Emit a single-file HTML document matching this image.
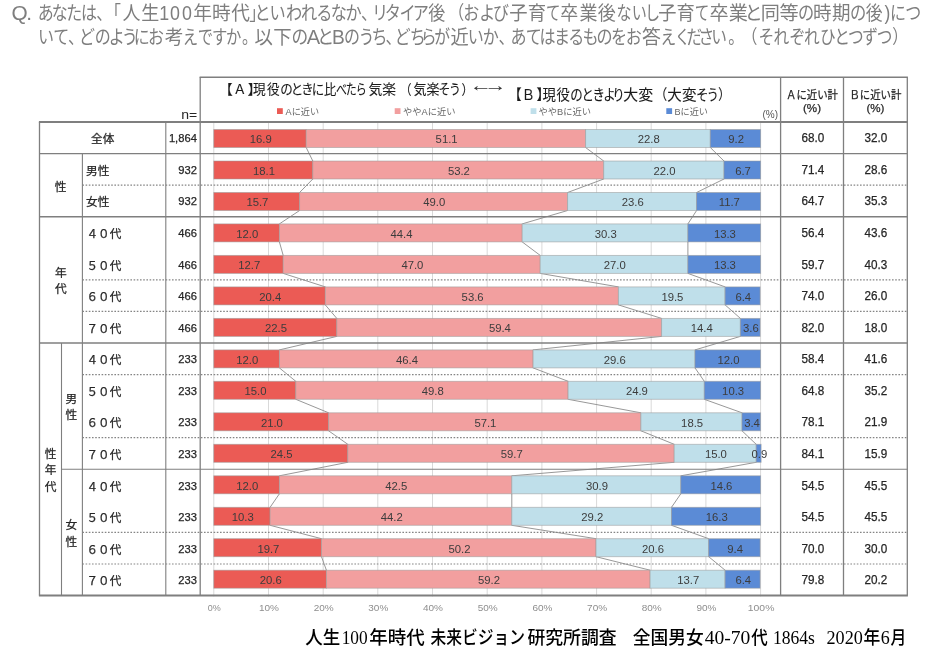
<!DOCTYPE html>
<html lang="ja"><head><meta charset="utf-8"><title>人生100年時代 調査</title>
<style>html,body{margin:0;padding:0;background:#fff}body{width:940px;height:658px;overflow:hidden}svg{display:block}text{font-family:"Liberation Sans", "Noto Sans CJK JP", sans-serif}.ser{font-family:"Liberation Serif", "Noto Sans CJK JP", sans-serif}</style></head><body>
<svg width="940" height="658" viewBox="0 0 940 658">
<rect width="940" height="658" fill="#fff"/>
<text transform="translate(0,20.4) scale(1.015,1)" x="11.3 25.9" y="0" font-size="20.5" fill="#7e7e7e">Q.</text>
<text transform="translate(0,20.4) scale(0.841,1)" x="44.8 61.6 78.9 96.2 114.4 124.8" y="0" font-size="19.0" fill="#7e7e7e">あなたは、「</text>
<text transform="translate(0,20.4) scale(0.950,1)" x="128.9 148.7" y="0" font-size="19.0" fill="#7e7e7e">人生</text>
<text transform="translate(0,20.4) scale(0.871,1)" x="182.9 195.3 209.0" y="0" font-size="20.5" fill="#7e7e7e">100</text>
<text transform="translate(0,20.4) scale(0.987,1)" x="195.9 214.9 234.3" y="0" font-size="19.0" fill="#7e7e7e">年時代</text>
<text transform="translate(0,20.4) scale(0.851,1)" x="292.9 299.1 316.7 336.0 353.7 371.7 388.6 406.0 424.2 437.0 452.2 469.4 484.9" y="0" font-size="19.0" fill="#7e7e7e">」といわれるなか、リタイア</text>
<text transform="translate(0,20.4) scale(0.895,1)" x="478.6" y="0" font-size="19.0" fill="#7e7e7e">後</text>
<text transform="translate(0,20.4) scale(0.842,1)" x="532.5 550.2 569.1 585.5" y="0" font-size="19.0" fill="#7e7e7e">（および</text>
<text transform="translate(0,20.4) scale(0.966,1)" x="527.3 546.3" y="0" font-size="19.0" fill="#7e7e7e">子育</text>
<text transform="translate(0,20.4) scale(0.757,1)" x="721.2" y="0" font-size="19.0" fill="#7e7e7e">て</text>
<text transform="translate(0,20.4) scale(0.948,1)" x="591.1 611.2 630.5" y="0" font-size="19.0" fill="#7e7e7e">卒業後</text>
<text transform="translate(0,20.4) scale(0.796,1)" x="774.5 793.6 810.4" y="0" font-size="19.0" fill="#7e7e7e">ないし</text>
<text transform="translate(0,20.4) scale(0.960,1)" x="685.6 704.6" y="0" font-size="19.0" fill="#7e7e7e">子育</text>
<text transform="translate(0,20.4) scale(0.764,1)" x="909.4" y="0" font-size="19.0" fill="#7e7e7e">て</text>
<text transform="translate(0,20.4) scale(1.007,1)" x="704.6 723.6" y="0" font-size="19.0" fill="#7e7e7e">卒業</text>
<text transform="translate(0,20.4) scale(0.956,1)" x="778.8" y="0" font-size="19.0" fill="#7e7e7e">と</text>
<text transform="translate(0,20.4) scale(1.009,1)" x="753.9 772.6" y="0" font-size="19.0" fill="#7e7e7e">同等</text>
<text transform="translate(0,20.4) scale(0.850,1)" x="938.8" y="0" font-size="19.0" fill="#7e7e7e">の</text>
<text transform="translate(0,20.4) scale(0.976,1)" x="833.1 852.5" y="0" font-size="19.0" fill="#7e7e7e">時期</text>
<text transform="translate(0,20.4) scale(0.857,1)" x="991.9" y="0" font-size="19.0" fill="#7e7e7e">の</text>
<text transform="translate(0,20.4) scale(0.883,1)" x="980.5" y="0" font-size="19.0" fill="#7e7e7e">後</text>
<text transform="translate(0,20.4) scale(0.850,1)" x="1040.5" y="0" font-size="20.5" fill="#7e7e7e">)</text>
<text transform="translate(0,20.4) scale(0.843,1)" x="1055.8 1073.9" y="0" font-size="19.0" fill="#7e7e7e">につ</text>
<text transform="translate(0,44.4) scale(0.842,1)" x="45.2 63.1 80.7 93.8 112.4 129.2 144.5 159.0 175.7" y="0" font-size="19.0" fill="#7e7e7e">いて、どのようにお</text>
<text transform="translate(0,44.4) scale(0.990,1)" x="166.4" y="0" font-size="19.0" fill="#7e7e7e">考</text>
<text transform="translate(0,44.4) scale(0.808,1)" x="226.2 244.8 262.5 279.7 299.6" y="0" font-size="19.0" fill="#7e7e7e">えですか。</text>
<text transform="translate(0,44.4) scale(0.966,1)" x="263.4 282.8" y="0" font-size="19.0" fill="#7e7e7e">以下</text>
<text transform="translate(0,44.4) scale(0.877,1)" x="332.5" y="0" font-size="19.0" fill="#7e7e7e">の</text>
<text transform="translate(0,44.4) scale(0.982,1)" x="312.5" y="0" font-size="20.5" fill="#7e7e7e">A</text>
<text transform="translate(0,44.4) scale(0.905,1)" x="350.2" y="0" font-size="19.0" fill="#7e7e7e">と</text>
<text transform="translate(0,44.4) scale(0.935,1)" x="355.2" y="0" font-size="20.5" fill="#7e7e7e">B</text>
<text transform="translate(0,44.4) scale(0.839,1)" x="410.0 427.3 442.8 459.4 470.4 488.4 501.4 517.7" y="0" font-size="19.0" fill="#7e7e7e">のうち、どちらが</text>
<text transform="translate(0,44.4) scale(0.962,1)" x="468.4" y="0" font-size="19.0" fill="#7e7e7e">近</text>
<text transform="translate(0,44.4) scale(0.845,1)" x="553.5 571.2 590.0 604.2 622.2 638.5 655.6 672.5 689.5 705.8 723.1 740.5" y="0" font-size="19.0" fill="#7e7e7e">いか、あてはまるものをお</text>
<text transform="translate(0,44.4) scale(0.992,1)" x="647.2" y="0" font-size="19.0" fill="#7e7e7e">答</text>
<text transform="translate(0,44.4) scale(0.826,1)" x="799.5 816.9 831.0 845.7 861.1 881.7 898.1 918.3 936.4 955.8 973.4 992.6 1009.9 1026.7 1043.8 1061.4 1080.3" y="0" font-size="19.0" fill="#7e7e7e">えください。（それぞれひとつずつ）</text>
<line x1="213.8" y1="122.0" x2="213.8" y2="596.5" stroke="#d9d9d9" stroke-width="1"/>
<line x1="268.5" y1="122.0" x2="268.5" y2="596.5" stroke="#d9d9d9" stroke-width="1"/>
<line x1="323.2" y1="122.0" x2="323.2" y2="596.5" stroke="#d9d9d9" stroke-width="1"/>
<line x1="377.8" y1="122.0" x2="377.8" y2="596.5" stroke="#d9d9d9" stroke-width="1"/>
<line x1="432.5" y1="122.0" x2="432.5" y2="596.5" stroke="#d9d9d9" stroke-width="1"/>
<line x1="487.2" y1="122.0" x2="487.2" y2="596.5" stroke="#d9d9d9" stroke-width="1"/>
<line x1="541.9" y1="122.0" x2="541.9" y2="596.5" stroke="#d9d9d9" stroke-width="1"/>
<line x1="596.6" y1="122.0" x2="596.6" y2="596.5" stroke="#d9d9d9" stroke-width="1"/>
<line x1="651.2" y1="122.0" x2="651.2" y2="596.5" stroke="#d9d9d9" stroke-width="1"/>
<line x1="705.9" y1="122.0" x2="705.9" y2="596.5" stroke="#d9d9d9" stroke-width="1"/>
<line x1="760.6" y1="122.0" x2="760.6" y2="596.5" stroke="#d9d9d9" stroke-width="1"/>
<line x1="306.2" y1="147.5" x2="312.8" y2="161.0" stroke="#8c8c8c" stroke-width="0.9"/>
<line x1="585.6" y1="147.5" x2="603.7" y2="161.0" stroke="#8c8c8c" stroke-width="0.9"/>
<line x1="710.3" y1="147.5" x2="724.0" y2="161.0" stroke="#8c8c8c" stroke-width="0.9"/>
<line x1="312.8" y1="179.0" x2="299.6" y2="192.5" stroke="#8c8c8c" stroke-width="0.9"/>
<line x1="603.7" y1="179.0" x2="567.6" y2="192.5" stroke="#8c8c8c" stroke-width="0.9"/>
<line x1="724.0" y1="179.0" x2="696.6" y2="192.5" stroke="#8c8c8c" stroke-width="0.9"/>
<line x1="299.6" y1="210.5" x2="279.4" y2="223.9" stroke="#8c8c8c" stroke-width="0.9"/>
<line x1="567.6" y1="210.5" x2="522.2" y2="223.9" stroke="#8c8c8c" stroke-width="0.9"/>
<line x1="696.6" y1="210.5" x2="687.9" y2="223.9" stroke="#8c8c8c" stroke-width="0.9"/>
<line x1="279.4" y1="241.9" x2="283.2" y2="255.4" stroke="#8c8c8c" stroke-width="0.9"/>
<line x1="522.2" y1="241.9" x2="540.2" y2="255.4" stroke="#8c8c8c" stroke-width="0.9"/>
<line x1="687.9" y1="241.9" x2="687.9" y2="255.4" stroke="#8c8c8c" stroke-width="0.9"/>
<line x1="283.2" y1="273.4" x2="325.3" y2="286.9" stroke="#8c8c8c" stroke-width="0.9"/>
<line x1="540.2" y1="273.4" x2="618.4" y2="286.9" stroke="#8c8c8c" stroke-width="0.9"/>
<line x1="687.9" y1="273.4" x2="725.1" y2="286.9" stroke="#8c8c8c" stroke-width="0.9"/>
<line x1="325.3" y1="304.9" x2="336.8" y2="318.4" stroke="#8c8c8c" stroke-width="0.9"/>
<line x1="618.4" y1="304.9" x2="661.6" y2="318.4" stroke="#8c8c8c" stroke-width="0.9"/>
<line x1="725.1" y1="304.9" x2="740.4" y2="318.4" stroke="#8c8c8c" stroke-width="0.9"/>
<line x1="336.8" y1="336.4" x2="279.4" y2="349.9" stroke="#8c8c8c" stroke-width="0.9"/>
<line x1="661.6" y1="336.4" x2="533.1" y2="349.9" stroke="#8c8c8c" stroke-width="0.9"/>
<line x1="740.4" y1="336.4" x2="695.0" y2="349.9" stroke="#8c8c8c" stroke-width="0.9"/>
<line x1="279.4" y1="367.9" x2="295.8" y2="381.3" stroke="#8c8c8c" stroke-width="0.9"/>
<line x1="533.1" y1="367.9" x2="568.1" y2="381.3" stroke="#8c8c8c" stroke-width="0.9"/>
<line x1="695.0" y1="367.9" x2="704.3" y2="381.3" stroke="#8c8c8c" stroke-width="0.9"/>
<line x1="295.8" y1="399.3" x2="328.6" y2="412.8" stroke="#8c8c8c" stroke-width="0.9"/>
<line x1="568.1" y1="399.3" x2="640.9" y2="412.8" stroke="#8c8c8c" stroke-width="0.9"/>
<line x1="704.3" y1="399.3" x2="742.0" y2="412.8" stroke="#8c8c8c" stroke-width="0.9"/>
<line x1="328.6" y1="430.8" x2="347.8" y2="444.3" stroke="#8c8c8c" stroke-width="0.9"/>
<line x1="640.9" y1="430.8" x2="674.2" y2="444.3" stroke="#8c8c8c" stroke-width="0.9"/>
<line x1="742.0" y1="430.8" x2="756.2" y2="444.3" stroke="#8c8c8c" stroke-width="0.9"/>
<line x1="347.8" y1="462.3" x2="279.4" y2="475.8" stroke="#8c8c8c" stroke-width="0.9"/>
<line x1="674.2" y1="462.3" x2="511.8" y2="475.8" stroke="#8c8c8c" stroke-width="0.9"/>
<line x1="756.2" y1="462.3" x2="680.8" y2="475.8" stroke="#8c8c8c" stroke-width="0.9"/>
<line x1="279.4" y1="493.8" x2="270.1" y2="507.3" stroke="#8c8c8c" stroke-width="0.9"/>
<line x1="511.8" y1="493.8" x2="511.8" y2="507.3" stroke="#8c8c8c" stroke-width="0.9"/>
<line x1="680.8" y1="493.8" x2="671.5" y2="507.3" stroke="#8c8c8c" stroke-width="0.9"/>
<line x1="270.1" y1="525.3" x2="321.5" y2="538.7" stroke="#8c8c8c" stroke-width="0.9"/>
<line x1="511.8" y1="525.3" x2="596.0" y2="538.7" stroke="#8c8c8c" stroke-width="0.9"/>
<line x1="671.5" y1="525.3" x2="708.7" y2="538.7" stroke="#8c8c8c" stroke-width="0.9"/>
<line x1="321.5" y1="556.7" x2="326.4" y2="570.2" stroke="#8c8c8c" stroke-width="0.9"/>
<line x1="596.0" y1="556.7" x2="650.1" y2="570.2" stroke="#8c8c8c" stroke-width="0.9"/>
<line x1="708.7" y1="556.7" x2="725.1" y2="570.2" stroke="#8c8c8c" stroke-width="0.9"/>
<rect x="213.8" y="129.5" width="92.4" height="18.0" fill="#EB5B55" stroke="#9a9a9a" stroke-opacity="0.6" stroke-width="0.9"/>
<rect x="306.2" y="129.5" width="279.4" height="18.0" fill="#F29F9F" stroke="#9a9a9a" stroke-opacity="0.6" stroke-width="0.9"/>
<rect x="585.6" y="129.5" width="124.7" height="18.0" fill="#BFDFEA" stroke="#9a9a9a" stroke-opacity="0.6" stroke-width="0.9"/>
<rect x="710.3" y="129.5" width="50.3" height="18.0" fill="#5B8BD6" stroke="#9a9a9a" stroke-opacity="0.6" stroke-width="0.9"/>
<text x="260.7" y="143.3" font-size="11.3" fill="#3c3c3c" text-anchor="middle">16.9</text>
<text x="446.6" y="143.3" font-size="11.3" fill="#3c3c3c" text-anchor="middle">51.1</text>
<text x="648.7" y="143.3" font-size="11.3" fill="#3c3c3c" text-anchor="middle">22.8</text>
<text x="736.1" y="143.3" font-size="11.3" fill="#3c3c3c" text-anchor="middle">9.2</text>
<rect x="213.8" y="161.0" width="99.0" height="18.0" fill="#EB5B55" stroke="#9a9a9a" stroke-opacity="0.6" stroke-width="0.9"/>
<rect x="312.8" y="161.0" width="290.9" height="18.0" fill="#F29F9F" stroke="#9a9a9a" stroke-opacity="0.6" stroke-width="0.9"/>
<rect x="603.7" y="161.0" width="120.3" height="18.0" fill="#BFDFEA" stroke="#9a9a9a" stroke-opacity="0.6" stroke-width="0.9"/>
<rect x="724.0" y="161.0" width="36.6" height="18.0" fill="#5B8BD6" stroke="#9a9a9a" stroke-opacity="0.6" stroke-width="0.9"/>
<text x="264.0" y="174.8" font-size="11.3" fill="#3c3c3c" text-anchor="middle">18.1</text>
<text x="458.9" y="174.8" font-size="11.3" fill="#3c3c3c" text-anchor="middle">53.2</text>
<text x="664.5" y="174.8" font-size="11.3" fill="#3c3c3c" text-anchor="middle">22.0</text>
<text x="743.0" y="174.8" font-size="11.3" fill="#3c3c3c" text-anchor="middle">6.7</text>
<rect x="213.8" y="192.5" width="85.8" height="18.0" fill="#EB5B55" stroke="#9a9a9a" stroke-opacity="0.6" stroke-width="0.9"/>
<rect x="299.6" y="192.5" width="267.9" height="18.0" fill="#F29F9F" stroke="#9a9a9a" stroke-opacity="0.6" stroke-width="0.9"/>
<rect x="567.6" y="192.5" width="129.0" height="18.0" fill="#BFDFEA" stroke="#9a9a9a" stroke-opacity="0.6" stroke-width="0.9"/>
<rect x="696.6" y="192.5" width="64.0" height="18.0" fill="#5B8BD6" stroke="#9a9a9a" stroke-opacity="0.6" stroke-width="0.9"/>
<text x="257.4" y="206.3" font-size="11.3" fill="#3c3c3c" text-anchor="middle">15.7</text>
<text x="434.3" y="206.3" font-size="11.3" fill="#3c3c3c" text-anchor="middle">49.0</text>
<text x="632.8" y="206.3" font-size="11.3" fill="#3c3c3c" text-anchor="middle">23.6</text>
<text x="729.3" y="206.3" font-size="11.3" fill="#3c3c3c" text-anchor="middle">11.7</text>
<rect x="213.8" y="223.9" width="65.6" height="18.0" fill="#EB5B55" stroke="#9a9a9a" stroke-opacity="0.6" stroke-width="0.9"/>
<rect x="279.4" y="223.9" width="242.8" height="18.0" fill="#F29F9F" stroke="#9a9a9a" stroke-opacity="0.6" stroke-width="0.9"/>
<rect x="522.2" y="223.9" width="165.7" height="18.0" fill="#BFDFEA" stroke="#9a9a9a" stroke-opacity="0.6" stroke-width="0.9"/>
<rect x="687.9" y="223.9" width="72.7" height="18.0" fill="#5B8BD6" stroke="#9a9a9a" stroke-opacity="0.6" stroke-width="0.9"/>
<text x="247.3" y="237.7" font-size="11.3" fill="#3c3c3c" text-anchor="middle">12.0</text>
<text x="401.5" y="237.7" font-size="11.3" fill="#3c3c3c" text-anchor="middle">44.4</text>
<text x="605.7" y="237.7" font-size="11.3" fill="#3c3c3c" text-anchor="middle">30.3</text>
<text x="724.9" y="237.7" font-size="11.3" fill="#3c3c3c" text-anchor="middle">13.3</text>
<rect x="213.8" y="255.4" width="69.4" height="18.0" fill="#EB5B55" stroke="#9a9a9a" stroke-opacity="0.6" stroke-width="0.9"/>
<rect x="283.2" y="255.4" width="257.0" height="18.0" fill="#F29F9F" stroke="#9a9a9a" stroke-opacity="0.6" stroke-width="0.9"/>
<rect x="540.2" y="255.4" width="147.6" height="18.0" fill="#BFDFEA" stroke="#9a9a9a" stroke-opacity="0.6" stroke-width="0.9"/>
<rect x="687.9" y="255.4" width="72.7" height="18.0" fill="#5B8BD6" stroke="#9a9a9a" stroke-opacity="0.6" stroke-width="0.9"/>
<text x="249.2" y="269.2" font-size="11.3" fill="#3c3c3c" text-anchor="middle">12.7</text>
<text x="412.4" y="269.2" font-size="11.3" fill="#3c3c3c" text-anchor="middle">47.0</text>
<text x="614.8" y="269.2" font-size="11.3" fill="#3c3c3c" text-anchor="middle">27.0</text>
<text x="724.9" y="269.2" font-size="11.3" fill="#3c3c3c" text-anchor="middle">13.3</text>
<rect x="213.8" y="286.9" width="111.5" height="18.0" fill="#EB5B55" stroke="#9a9a9a" stroke-opacity="0.6" stroke-width="0.9"/>
<rect x="325.3" y="286.9" width="293.1" height="18.0" fill="#F29F9F" stroke="#9a9a9a" stroke-opacity="0.6" stroke-width="0.9"/>
<rect x="618.4" y="286.9" width="106.6" height="18.0" fill="#BFDFEA" stroke="#9a9a9a" stroke-opacity="0.6" stroke-width="0.9"/>
<rect x="725.1" y="286.9" width="35.0" height="18.0" fill="#5B8BD6" stroke="#9a9a9a" stroke-opacity="0.6" stroke-width="0.9"/>
<text x="270.3" y="300.7" font-size="11.3" fill="#3c3c3c" text-anchor="middle">20.4</text>
<text x="472.6" y="300.7" font-size="11.3" fill="#3c3c3c" text-anchor="middle">53.6</text>
<text x="672.4" y="300.7" font-size="11.3" fill="#3c3c3c" text-anchor="middle">19.5</text>
<text x="743.3" y="300.7" font-size="11.3" fill="#3c3c3c" text-anchor="middle">6.4</text>
<rect x="213.8" y="318.4" width="123.0" height="18.0" fill="#EB5B55" stroke="#9a9a9a" stroke-opacity="0.6" stroke-width="0.9"/>
<rect x="336.8" y="318.4" width="324.8" height="18.0" fill="#F29F9F" stroke="#9a9a9a" stroke-opacity="0.6" stroke-width="0.9"/>
<rect x="661.6" y="318.4" width="78.7" height="18.0" fill="#BFDFEA" stroke="#9a9a9a" stroke-opacity="0.6" stroke-width="0.9"/>
<rect x="740.4" y="318.4" width="19.7" height="18.0" fill="#5B8BD6" stroke="#9a9a9a" stroke-opacity="0.6" stroke-width="0.9"/>
<text x="276.0" y="332.2" font-size="11.3" fill="#3c3c3c" text-anchor="middle">22.5</text>
<text x="499.9" y="332.2" font-size="11.3" fill="#3c3c3c" text-anchor="middle">59.4</text>
<text x="701.7" y="332.2" font-size="11.3" fill="#3c3c3c" text-anchor="middle">14.4</text>
<text x="750.9" y="332.2" font-size="11.3" fill="#3c3c3c" text-anchor="middle">3.6</text>
<rect x="213.8" y="349.9" width="65.6" height="18.0" fill="#EB5B55" stroke="#9a9a9a" stroke-opacity="0.6" stroke-width="0.9"/>
<rect x="279.4" y="349.9" width="253.7" height="18.0" fill="#F29F9F" stroke="#9a9a9a" stroke-opacity="0.6" stroke-width="0.9"/>
<rect x="533.1" y="349.9" width="161.9" height="18.0" fill="#BFDFEA" stroke="#9a9a9a" stroke-opacity="0.6" stroke-width="0.9"/>
<rect x="695.0" y="349.9" width="65.6" height="18.0" fill="#5B8BD6" stroke="#9a9a9a" stroke-opacity="0.6" stroke-width="0.9"/>
<text x="247.3" y="363.7" font-size="11.3" fill="#3c3c3c" text-anchor="middle">12.0</text>
<text x="407.0" y="363.7" font-size="11.3" fill="#3c3c3c" text-anchor="middle">46.4</text>
<text x="614.8" y="363.7" font-size="11.3" fill="#3c3c3c" text-anchor="middle">29.6</text>
<text x="728.5" y="363.7" font-size="11.3" fill="#3c3c3c" text-anchor="middle">12.0</text>
<rect x="213.8" y="381.3" width="82.0" height="18.0" fill="#EB5B55" stroke="#9a9a9a" stroke-opacity="0.6" stroke-width="0.9"/>
<rect x="295.8" y="381.3" width="272.3" height="18.0" fill="#F29F9F" stroke="#9a9a9a" stroke-opacity="0.6" stroke-width="0.9"/>
<rect x="568.1" y="381.3" width="136.2" height="18.0" fill="#BFDFEA" stroke="#9a9a9a" stroke-opacity="0.6" stroke-width="0.9"/>
<rect x="704.3" y="381.3" width="56.3" height="18.0" fill="#5B8BD6" stroke="#9a9a9a" stroke-opacity="0.6" stroke-width="0.9"/>
<text x="255.5" y="395.1" font-size="11.3" fill="#3c3c3c" text-anchor="middle">15.0</text>
<text x="432.7" y="395.1" font-size="11.3" fill="#3c3c3c" text-anchor="middle">49.8</text>
<text x="636.9" y="395.1" font-size="11.3" fill="#3c3c3c" text-anchor="middle">24.9</text>
<text x="733.1" y="395.1" font-size="11.3" fill="#3c3c3c" text-anchor="middle">10.3</text>
<rect x="213.8" y="412.8" width="114.8" height="18.0" fill="#EB5B55" stroke="#9a9a9a" stroke-opacity="0.6" stroke-width="0.9"/>
<rect x="328.6" y="412.8" width="312.2" height="18.0" fill="#F29F9F" stroke="#9a9a9a" stroke-opacity="0.6" stroke-width="0.9"/>
<rect x="640.9" y="412.8" width="101.2" height="18.0" fill="#BFDFEA" stroke="#9a9a9a" stroke-opacity="0.6" stroke-width="0.9"/>
<rect x="742.0" y="412.8" width="18.6" height="18.0" fill="#5B8BD6" stroke="#9a9a9a" stroke-opacity="0.6" stroke-width="0.9"/>
<text x="271.9" y="426.6" font-size="11.3" fill="#3c3c3c" text-anchor="middle">21.0</text>
<text x="485.4" y="426.6" font-size="11.3" fill="#3c3c3c" text-anchor="middle">57.1</text>
<text x="692.1" y="426.6" font-size="11.3" fill="#3c3c3c" text-anchor="middle">18.5</text>
<text x="752.0" y="426.6" font-size="11.3" fill="#3c3c3c" text-anchor="middle">3.4</text>
<rect x="213.8" y="444.3" width="134.0" height="18.0" fill="#EB5B55" stroke="#9a9a9a" stroke-opacity="0.6" stroke-width="0.9"/>
<rect x="347.8" y="444.3" width="326.4" height="18.0" fill="#F29F9F" stroke="#9a9a9a" stroke-opacity="0.6" stroke-width="0.9"/>
<rect x="674.2" y="444.3" width="82.0" height="18.0" fill="#BFDFEA" stroke="#9a9a9a" stroke-opacity="0.6" stroke-width="0.9"/>
<rect x="756.2" y="444.3" width="4.9" height="18.0" fill="#5B8BD6" stroke="#9a9a9a" stroke-opacity="0.6" stroke-width="0.9"/>
<text x="281.5" y="458.1" font-size="11.3" fill="#3c3c3c" text-anchor="middle">24.5</text>
<text x="511.7" y="458.1" font-size="11.3" fill="#3c3c3c" text-anchor="middle">59.7</text>
<text x="715.9" y="458.1" font-size="11.3" fill="#3c3c3c" text-anchor="middle">15.0</text>
<text x="759.4" y="458.1" font-size="11.3" fill="#3c3c3c" text-anchor="middle">0.9</text>
<rect x="213.8" y="475.8" width="65.6" height="18.0" fill="#EB5B55" stroke="#9a9a9a" stroke-opacity="0.6" stroke-width="0.9"/>
<rect x="279.4" y="475.8" width="232.4" height="18.0" fill="#F29F9F" stroke="#9a9a9a" stroke-opacity="0.6" stroke-width="0.9"/>
<rect x="511.8" y="475.8" width="169.0" height="18.0" fill="#BFDFEA" stroke="#9a9a9a" stroke-opacity="0.6" stroke-width="0.9"/>
<rect x="680.8" y="475.8" width="79.8" height="18.0" fill="#5B8BD6" stroke="#9a9a9a" stroke-opacity="0.6" stroke-width="0.9"/>
<text x="247.3" y="489.6" font-size="11.3" fill="#3c3c3c" text-anchor="middle">12.0</text>
<text x="396.3" y="489.6" font-size="11.3" fill="#3c3c3c" text-anchor="middle">42.5</text>
<text x="597.0" y="489.6" font-size="11.3" fill="#3c3c3c" text-anchor="middle">30.9</text>
<text x="721.4" y="489.6" font-size="11.3" fill="#3c3c3c" text-anchor="middle">14.6</text>
<rect x="213.8" y="507.3" width="56.3" height="18.0" fill="#EB5B55" stroke="#9a9a9a" stroke-opacity="0.6" stroke-width="0.9"/>
<rect x="270.1" y="507.3" width="241.7" height="18.0" fill="#F29F9F" stroke="#9a9a9a" stroke-opacity="0.6" stroke-width="0.9"/>
<rect x="511.8" y="507.3" width="159.7" height="18.0" fill="#BFDFEA" stroke="#9a9a9a" stroke-opacity="0.6" stroke-width="0.9"/>
<rect x="671.5" y="507.3" width="89.1" height="18.0" fill="#5B8BD6" stroke="#9a9a9a" stroke-opacity="0.6" stroke-width="0.9"/>
<text x="242.7" y="521.1" font-size="11.3" fill="#3c3c3c" text-anchor="middle">10.3</text>
<text x="391.7" y="521.1" font-size="11.3" fill="#3c3c3c" text-anchor="middle">44.2</text>
<text x="592.3" y="521.1" font-size="11.3" fill="#3c3c3c" text-anchor="middle">29.2</text>
<text x="716.7" y="521.1" font-size="11.3" fill="#3c3c3c" text-anchor="middle">16.3</text>
<rect x="213.8" y="538.7" width="107.7" height="18.0" fill="#EB5B55" stroke="#9a9a9a" stroke-opacity="0.6" stroke-width="0.9"/>
<rect x="321.5" y="538.7" width="274.5" height="18.0" fill="#F29F9F" stroke="#9a9a9a" stroke-opacity="0.6" stroke-width="0.9"/>
<rect x="596.0" y="538.7" width="112.6" height="18.0" fill="#BFDFEA" stroke="#9a9a9a" stroke-opacity="0.6" stroke-width="0.9"/>
<rect x="708.7" y="538.7" width="51.4" height="18.0" fill="#5B8BD6" stroke="#9a9a9a" stroke-opacity="0.6" stroke-width="0.9"/>
<text x="268.4" y="552.5" font-size="11.3" fill="#3c3c3c" text-anchor="middle">19.7</text>
<text x="459.5" y="552.5" font-size="11.3" fill="#3c3c3c" text-anchor="middle">50.2</text>
<text x="653.0" y="552.5" font-size="11.3" fill="#3c3c3c" text-anchor="middle">20.6</text>
<text x="735.1" y="552.5" font-size="11.3" fill="#3c3c3c" text-anchor="middle">9.4</text>
<rect x="213.8" y="570.2" width="112.6" height="18.0" fill="#EB5B55" stroke="#9a9a9a" stroke-opacity="0.6" stroke-width="0.9"/>
<rect x="326.4" y="570.2" width="323.7" height="18.0" fill="#F29F9F" stroke="#9a9a9a" stroke-opacity="0.6" stroke-width="0.9"/>
<rect x="650.1" y="570.2" width="74.9" height="18.0" fill="#BFDFEA" stroke="#9a9a9a" stroke-opacity="0.6" stroke-width="0.9"/>
<rect x="725.1" y="570.2" width="35.0" height="18.0" fill="#5B8BD6" stroke="#9a9a9a" stroke-opacity="0.6" stroke-width="0.9"/>
<text x="270.8" y="584.0" font-size="11.3" fill="#3c3c3c" text-anchor="middle">20.6</text>
<text x="489.0" y="584.0" font-size="11.3" fill="#3c3c3c" text-anchor="middle">59.2</text>
<text x="688.3" y="584.0" font-size="11.3" fill="#3c3c3c" text-anchor="middle">13.7</text>
<text x="743.3" y="584.0" font-size="11.3" fill="#3c3c3c" text-anchor="middle">6.4</text>
<line x1="199.6" y1="77.2" x2="907.9" y2="77.2" stroke="#7f7f7f" stroke-width="1.6"/>
<line x1="200.2" y1="77.2" x2="200.2" y2="595.5" stroke="#7f7f7f" stroke-width="1.3"/>
<line x1="780.6" y1="77.2" x2="780.6" y2="595.5" stroke="#7f7f7f" stroke-width="1.3"/>
<line x1="843.5" y1="77.2" x2="843.5" y2="595.5" stroke="#7f7f7f" stroke-width="1.3"/>
<line x1="907.3" y1="77.2" x2="907.3" y2="595.5" stroke="#7f7f7f" stroke-width="1.3"/>
<line x1="38.9" y1="122.0" x2="907.9" y2="122.0" stroke="#7f7f7f" stroke-width="1.9"/>
<line x1="38.9" y1="595.5" x2="907.9" y2="595.5" stroke="#7f7f7f" stroke-width="1.9"/>
<line x1="39.5" y1="122.0" x2="39.5" y2="595.5" stroke="#7f7f7f" stroke-width="1.3"/>
<line x1="165.8" y1="122.0" x2="165.8" y2="595.5" stroke="#7f7f7f" stroke-width="1.1"/>
<line x1="82.4" y1="153.6" x2="82.4" y2="595.5" stroke="#7f7f7f" stroke-width="1.1"/>
<line x1="61.5" y1="343.0" x2="61.5" y2="595.5" stroke="#7f7f7f" stroke-width="1.1"/>
<line x1="39.5" y1="153.6" x2="907.3" y2="153.6" stroke="#7f7f7f" stroke-width="1.2"/>
<line x1="39.5" y1="216.7" x2="907.3" y2="216.7" stroke="#7f7f7f" stroke-width="1.5"/>
<line x1="39.5" y1="343.0" x2="907.3" y2="343.0" stroke="#7f7f7f" stroke-width="1.5"/>
<line x1="61.5" y1="469.3" x2="907.3" y2="469.3" stroke="#7f7f7f" stroke-width="1.1"/>
<line x1="82.4" y1="185.1" x2="907.3" y2="185.1" stroke="#858585" stroke-width="1.2" stroke-dasharray="1.6 1.6"/>
<line x1="82.4" y1="279.9" x2="907.3" y2="279.9" stroke="#858585" stroke-width="1.2" stroke-dasharray="1.6 1.6"/>
<line x1="82.4" y1="311.4" x2="907.3" y2="311.4" stroke="#858585" stroke-width="1.2" stroke-dasharray="1.6 1.6"/>
<line x1="82.4" y1="374.6" x2="907.3" y2="374.6" stroke="#858585" stroke-width="1.2" stroke-dasharray="1.6 1.6"/>
<line x1="82.4" y1="437.7" x2="907.3" y2="437.7" stroke="#858585" stroke-width="1.2" stroke-dasharray="1.6 1.6"/>
<line x1="82.4" y1="532.4" x2="907.3" y2="532.4" stroke="#858585" stroke-width="1.2" stroke-dasharray="1.6 1.6"/>
<line x1="82.4" y1="564.0" x2="907.3" y2="564.0" stroke="#858585" stroke-width="1.2" stroke-dasharray="1.6 1.6"/>
<text x="102.7" y="143.3" font-size="11.7" fill="#262626" text-anchor="middle" stroke="#262626" stroke-width="0.25">全体</text>
<text x="196.9" y="142.2" font-size="11.2" fill="#262626" text-anchor="end" stroke="#262626" stroke-width="0.25">1,864</text>
<text x="812.8" y="142.2" font-size="12" fill="#262626" text-anchor="middle" textLength="22.8" lengthAdjust="spacingAndGlyphs" stroke="#262626" stroke-width="0.25">68.0</text>
<text x="875.9" y="142.2" font-size="12" fill="#262626" text-anchor="middle" textLength="22.8" lengthAdjust="spacingAndGlyphs" stroke="#262626" stroke-width="0.25">32.0</text>
<text x="86.0" y="174.9" font-size="11.7" fill="#262626" text-anchor="start" stroke="#262626" stroke-width="0.25">男性</text>
<text x="196.9" y="173.8" font-size="11.2" fill="#262626" text-anchor="end" stroke="#262626" stroke-width="0.25">932</text>
<text x="812.8" y="173.8" font-size="12" fill="#262626" text-anchor="middle" textLength="22.8" lengthAdjust="spacingAndGlyphs" stroke="#262626" stroke-width="0.25">71.4</text>
<text x="875.9" y="173.8" font-size="12" fill="#262626" text-anchor="middle" textLength="22.8" lengthAdjust="spacingAndGlyphs" stroke="#262626" stroke-width="0.25">28.6</text>
<text x="86.0" y="206.4" font-size="11.7" fill="#262626" text-anchor="start" stroke="#262626" stroke-width="0.25">女性</text>
<text x="196.9" y="205.3" font-size="11.2" fill="#262626" text-anchor="end" stroke="#262626" stroke-width="0.25">932</text>
<text x="812.8" y="205.3" font-size="12" fill="#262626" text-anchor="middle" textLength="22.8" lengthAdjust="spacingAndGlyphs" stroke="#262626" stroke-width="0.25">64.7</text>
<text x="875.9" y="205.3" font-size="12" fill="#262626" text-anchor="middle" textLength="22.8" lengthAdjust="spacingAndGlyphs" stroke="#262626" stroke-width="0.25">35.3</text>
<text x="86.6" y="238.0" font-size="11.7" fill="#262626" text-anchor="start" textLength="34.6" lengthAdjust="spacingAndGlyphs" stroke="#262626" stroke-width="0.25">４０代</text>
<text x="196.9" y="236.9" font-size="11.2" fill="#262626" text-anchor="end" stroke="#262626" stroke-width="0.25">466</text>
<text x="812.8" y="236.9" font-size="12" fill="#262626" text-anchor="middle" textLength="22.8" lengthAdjust="spacingAndGlyphs" stroke="#262626" stroke-width="0.25">56.4</text>
<text x="875.9" y="236.9" font-size="12" fill="#262626" text-anchor="middle" textLength="22.8" lengthAdjust="spacingAndGlyphs" stroke="#262626" stroke-width="0.25">43.6</text>
<text x="86.6" y="269.6" font-size="11.7" fill="#262626" text-anchor="start" textLength="34.6" lengthAdjust="spacingAndGlyphs" stroke="#262626" stroke-width="0.25">５０代</text>
<text x="196.9" y="268.5" font-size="11.2" fill="#262626" text-anchor="end" stroke="#262626" stroke-width="0.25">466</text>
<text x="812.8" y="268.5" font-size="12" fill="#262626" text-anchor="middle" textLength="22.8" lengthAdjust="spacingAndGlyphs" stroke="#262626" stroke-width="0.25">59.7</text>
<text x="875.9" y="268.5" font-size="12" fill="#262626" text-anchor="middle" textLength="22.8" lengthAdjust="spacingAndGlyphs" stroke="#262626" stroke-width="0.25">40.3</text>
<text x="86.6" y="301.1" font-size="11.7" fill="#262626" text-anchor="start" textLength="34.6" lengthAdjust="spacingAndGlyphs" stroke="#262626" stroke-width="0.25">６０代</text>
<text x="196.9" y="300.0" font-size="11.2" fill="#262626" text-anchor="end" stroke="#262626" stroke-width="0.25">466</text>
<text x="812.8" y="300.0" font-size="12" fill="#262626" text-anchor="middle" textLength="22.8" lengthAdjust="spacingAndGlyphs" stroke="#262626" stroke-width="0.25">74.0</text>
<text x="875.9" y="300.0" font-size="12" fill="#262626" text-anchor="middle" textLength="22.8" lengthAdjust="spacingAndGlyphs" stroke="#262626" stroke-width="0.25">26.0</text>
<text x="86.6" y="332.7" font-size="11.7" fill="#262626" text-anchor="start" textLength="34.6" lengthAdjust="spacingAndGlyphs" stroke="#262626" stroke-width="0.25">７０代</text>
<text x="196.9" y="331.6" font-size="11.2" fill="#262626" text-anchor="end" stroke="#262626" stroke-width="0.25">466</text>
<text x="812.8" y="331.6" font-size="12" fill="#262626" text-anchor="middle" textLength="22.8" lengthAdjust="spacingAndGlyphs" stroke="#262626" stroke-width="0.25">82.0</text>
<text x="875.9" y="331.6" font-size="12" fill="#262626" text-anchor="middle" textLength="22.8" lengthAdjust="spacingAndGlyphs" stroke="#262626" stroke-width="0.25">18.0</text>
<text x="86.6" y="364.3" font-size="11.7" fill="#262626" text-anchor="start" textLength="34.6" lengthAdjust="spacingAndGlyphs" stroke="#262626" stroke-width="0.25">４０代</text>
<text x="196.9" y="363.2" font-size="11.2" fill="#262626" text-anchor="end" stroke="#262626" stroke-width="0.25">233</text>
<text x="812.8" y="363.2" font-size="12" fill="#262626" text-anchor="middle" textLength="22.8" lengthAdjust="spacingAndGlyphs" stroke="#262626" stroke-width="0.25">58.4</text>
<text x="875.9" y="363.2" font-size="12" fill="#262626" text-anchor="middle" textLength="22.8" lengthAdjust="spacingAndGlyphs" stroke="#262626" stroke-width="0.25">41.6</text>
<text x="86.6" y="395.8" font-size="11.7" fill="#262626" text-anchor="start" textLength="34.6" lengthAdjust="spacingAndGlyphs" stroke="#262626" stroke-width="0.25">５０代</text>
<text x="196.9" y="394.7" font-size="11.2" fill="#262626" text-anchor="end" stroke="#262626" stroke-width="0.25">233</text>
<text x="812.8" y="394.7" font-size="12" fill="#262626" text-anchor="middle" textLength="22.8" lengthAdjust="spacingAndGlyphs" stroke="#262626" stroke-width="0.25">64.8</text>
<text x="875.9" y="394.7" font-size="12" fill="#262626" text-anchor="middle" textLength="22.8" lengthAdjust="spacingAndGlyphs" stroke="#262626" stroke-width="0.25">35.2</text>
<text x="86.6" y="427.4" font-size="11.7" fill="#262626" text-anchor="start" textLength="34.6" lengthAdjust="spacingAndGlyphs" stroke="#262626" stroke-width="0.25">６０代</text>
<text x="196.9" y="426.3" font-size="11.2" fill="#262626" text-anchor="end" stroke="#262626" stroke-width="0.25">233</text>
<text x="812.8" y="426.3" font-size="12" fill="#262626" text-anchor="middle" textLength="22.8" lengthAdjust="spacingAndGlyphs" stroke="#262626" stroke-width="0.25">78.1</text>
<text x="875.9" y="426.3" font-size="12" fill="#262626" text-anchor="middle" textLength="22.8" lengthAdjust="spacingAndGlyphs" stroke="#262626" stroke-width="0.25">21.9</text>
<text x="86.6" y="459.0" font-size="11.7" fill="#262626" text-anchor="start" textLength="34.6" lengthAdjust="spacingAndGlyphs" stroke="#262626" stroke-width="0.25">７０代</text>
<text x="196.9" y="457.9" font-size="11.2" fill="#262626" text-anchor="end" stroke="#262626" stroke-width="0.25">233</text>
<text x="812.8" y="457.9" font-size="12" fill="#262626" text-anchor="middle" textLength="22.8" lengthAdjust="spacingAndGlyphs" stroke="#262626" stroke-width="0.25">84.1</text>
<text x="875.9" y="457.9" font-size="12" fill="#262626" text-anchor="middle" textLength="22.8" lengthAdjust="spacingAndGlyphs" stroke="#262626" stroke-width="0.25">15.9</text>
<text x="86.6" y="490.6" font-size="11.7" fill="#262626" text-anchor="start" textLength="34.6" lengthAdjust="spacingAndGlyphs" stroke="#262626" stroke-width="0.25">４０代</text>
<text x="196.9" y="489.5" font-size="11.2" fill="#262626" text-anchor="end" stroke="#262626" stroke-width="0.25">233</text>
<text x="812.8" y="489.5" font-size="12" fill="#262626" text-anchor="middle" textLength="22.8" lengthAdjust="spacingAndGlyphs" stroke="#262626" stroke-width="0.25">54.5</text>
<text x="875.9" y="489.5" font-size="12" fill="#262626" text-anchor="middle" textLength="22.8" lengthAdjust="spacingAndGlyphs" stroke="#262626" stroke-width="0.25">45.5</text>
<text x="86.6" y="522.1" font-size="11.7" fill="#262626" text-anchor="start" textLength="34.6" lengthAdjust="spacingAndGlyphs" stroke="#262626" stroke-width="0.25">５０代</text>
<text x="196.9" y="521.0" font-size="11.2" fill="#262626" text-anchor="end" stroke="#262626" stroke-width="0.25">233</text>
<text x="812.8" y="521.0" font-size="12" fill="#262626" text-anchor="middle" textLength="22.8" lengthAdjust="spacingAndGlyphs" stroke="#262626" stroke-width="0.25">54.5</text>
<text x="875.9" y="521.0" font-size="12" fill="#262626" text-anchor="middle" textLength="22.8" lengthAdjust="spacingAndGlyphs" stroke="#262626" stroke-width="0.25">45.5</text>
<text x="86.6" y="553.7" font-size="11.7" fill="#262626" text-anchor="start" textLength="34.6" lengthAdjust="spacingAndGlyphs" stroke="#262626" stroke-width="0.25">６０代</text>
<text x="196.9" y="552.6" font-size="11.2" fill="#262626" text-anchor="end" stroke="#262626" stroke-width="0.25">233</text>
<text x="812.8" y="552.6" font-size="12" fill="#262626" text-anchor="middle" textLength="22.8" lengthAdjust="spacingAndGlyphs" stroke="#262626" stroke-width="0.25">70.0</text>
<text x="875.9" y="552.6" font-size="12" fill="#262626" text-anchor="middle" textLength="22.8" lengthAdjust="spacingAndGlyphs" stroke="#262626" stroke-width="0.25">30.0</text>
<text x="86.6" y="585.3" font-size="11.7" fill="#262626" text-anchor="start" textLength="34.6" lengthAdjust="spacingAndGlyphs" stroke="#262626" stroke-width="0.25">７０代</text>
<text x="196.9" y="584.2" font-size="11.2" fill="#262626" text-anchor="end" stroke="#262626" stroke-width="0.25">233</text>
<text x="812.8" y="584.2" font-size="12" fill="#262626" text-anchor="middle" textLength="22.8" lengthAdjust="spacingAndGlyphs" stroke="#262626" stroke-width="0.25">79.8</text>
<text x="875.9" y="584.2" font-size="12" fill="#262626" text-anchor="middle" textLength="22.8" lengthAdjust="spacingAndGlyphs" stroke="#262626" stroke-width="0.25">20.2</text>
<text x="60.6" y="190.9" font-size="11.7" fill="#262626" text-anchor="middle" stroke="#262626" stroke-width="0.25">性</text>
<text x="60.8" y="276.9" font-size="11.7" fill="#262626" text-anchor="middle" stroke="#262626" stroke-width="0.25">年</text>
<text x="60.8" y="292.9" font-size="11.7" fill="#262626" text-anchor="middle" stroke="#262626" stroke-width="0.25">代</text>
<text x="50.5" y="458.0" font-size="11.7" fill="#262626" text-anchor="middle" stroke="#262626" stroke-width="0.25">性</text>
<text x="50.5" y="474.2" font-size="11.7" fill="#262626" text-anchor="middle" stroke="#262626" stroke-width="0.25">年</text>
<text x="50.5" y="490.5" font-size="11.7" fill="#262626" text-anchor="middle" stroke="#262626" stroke-width="0.25">代</text>
<text x="71.4" y="403.1" font-size="11.7" fill="#262626" text-anchor="middle" stroke="#262626" stroke-width="0.25">男</text>
<text x="71.4" y="419.3" font-size="11.7" fill="#262626" text-anchor="middle" stroke="#262626" stroke-width="0.25">性</text>
<text x="71.4" y="529.4" font-size="11.7" fill="#262626" text-anchor="middle" stroke="#262626" stroke-width="0.25">女</text>
<text x="71.4" y="545.6" font-size="11.7" fill="#262626" text-anchor="middle" stroke="#262626" stroke-width="0.25">性</text>
<text x="197.2" y="119.0" font-size="12.6" fill="#262626" text-anchor="end" textLength="16.0" lengthAdjust="spacingAndGlyphs">n=</text>
<text transform="translate(0,93.6) scale(0.973,1)" x="225.5 239.7 254.6" y="0" font-size="13.6" fill="#1a1a1a" stroke="#1a1a1a" stroke-width="0.1">【Ａ】</text>
<text transform="translate(0,93.6) scale(0.929,1)" x="272.3 287.3" y="0" font-size="13.6" fill="#1a1a1a" stroke="#1a1a1a" stroke-width="0.1">現役</text>
<text transform="translate(0,93.6) scale(0.923,1)" x="303.6 315.0 326.4 337.8" y="0" font-size="13.6" fill="#1a1a1a" stroke="#1a1a1a" stroke-width="0.1">のときに</text>
<text transform="translate(0,93.6) scale(0.902,1)" x="359.3" y="0" font-size="13.6" fill="#1a1a1a" stroke="#1a1a1a" stroke-width="0.1">比</text>
<text transform="translate(0,93.6) scale(0.803,1)" x="418.4 430.5 443.1" y="0" font-size="13.6" fill="#1a1a1a" stroke="#1a1a1a" stroke-width="0.1">べたら</text>
<text transform="translate(0,93.6) scale(1.011,1)" x="364.4 378.0" y="0" font-size="13.6" fill="#1a1a1a" stroke="#1a1a1a" stroke-width="0.1">気楽</text>
<text transform="translate(0,93.6) scale(0.850,1)" x="470.5" y="0" font-size="13.6" fill="#1a1a1a" stroke="#1a1a1a" stroke-width="0.1">（</text>
<text transform="translate(0,93.6) scale(0.952,1)" x="434.3 448.1" y="0" font-size="13.6" fill="#1a1a1a" stroke="#1a1a1a" stroke-width="0.1">気楽</text>
<text transform="translate(0,93.6) scale(0.877,1)" x="500.0 512.0 526.1" y="0" font-size="13.6" fill="#1a1a1a" stroke="#1a1a1a" stroke-width="0.1">そう）</text>
<text transform="translate(0,90.6) scale(1.287,1)" x="364.8 376.0" y="0" font-size="17.5" fill="#333">←→</text>
<text transform="translate(0,99.6) scale(0.901,1)" x="564.3 579.1 595.5" y="0" font-size="14.6" fill="#1a1a1a" stroke="#1a1a1a" stroke-width="0.1">【Ｂ】</text>
<text transform="translate(0,99.6) scale(0.917,1)" x="591.5 606.9" y="0" font-size="14.6" fill="#1a1a1a" stroke="#1a1a1a" stroke-width="0.1">現役</text>
<text transform="translate(0,99.6) scale(0.857,1)" x="665.5 678.5 691.4 704.0 714.4" y="0" font-size="14.6" fill="#1a1a1a" stroke="#1a1a1a" stroke-width="0.1">のときより</text>
<text transform="translate(0,99.6) scale(1.020,1)" x="611.0 625.7" y="0" font-size="14.6" fill="#1a1a1a" stroke="#1a1a1a" stroke-width="0.1">大変</text>
<text transform="translate(0,99.6) scale(0.850,1)" x="770.2" y="0" font-size="14.6" fill="#1a1a1a" stroke="#1a1a1a" stroke-width="0.1">（</text>
<text transform="translate(0,99.6) scale(0.997,1)" x="669.3 684.1" y="0" font-size="14.6" fill="#1a1a1a" stroke="#1a1a1a" stroke-width="0.1">大変</text>
<text transform="translate(0,99.6) scale(0.829,1)" x="839.8 852.6 866.3" y="0" font-size="14.6" fill="#1a1a1a" stroke="#1a1a1a" stroke-width="0.1">そう）</text>
<rect x="277.0" y="108.2" width="5.8" height="5.8" fill="#EB5B55"/>
<text x="285.6" y="114.6" font-size="9.3" fill="#666" text-anchor="start" textLength="33.5" lengthAdjust="spacingAndGlyphs">Aに近い</text>
<rect x="394.7" y="108.2" width="5.8" height="5.8" fill="#F29F9F"/>
<text x="403.0" y="114.6" font-size="9.3" fill="#666" text-anchor="start" textLength="52.5" lengthAdjust="spacingAndGlyphs">ややAに近い</text>
<rect x="530.6" y="108.2" width="5.8" height="5.8" fill="#BFDFEA"/>
<text x="538.5" y="114.6" font-size="9.3" fill="#666" text-anchor="start" textLength="52.5" lengthAdjust="spacingAndGlyphs">ややBに近い</text>
<rect x="666.3" y="108.2" width="5.8" height="5.8" fill="#5B8BD6"/>
<text x="674.5" y="114.6" font-size="9.3" fill="#666" text-anchor="start" textLength="33.5" lengthAdjust="spacingAndGlyphs">Bに近い</text>
<text x="770.2" y="118.0" font-size="10" fill="#555" text-anchor="middle">(%)</text>
<text x="812.0" y="98.5" font-size="11.5" fill="#262626" text-anchor="middle" textLength="52.0" lengthAdjust="spacingAndGlyphs" stroke="#262626" stroke-width="0.25">Ａに近い計</text>
<text x="812.0" y="112.2" font-size="11.6" fill="#262626" text-anchor="middle" stroke="#262626" stroke-width="0.25">(%)</text>
<text x="875.4" y="98.5" font-size="11.5" fill="#262626" text-anchor="middle" textLength="52.0" lengthAdjust="spacingAndGlyphs" stroke="#262626" stroke-width="0.25">Ｂに近い計</text>
<text x="875.4" y="112.2" font-size="11.6" fill="#262626" text-anchor="middle" stroke="#262626" stroke-width="0.25">(%)</text>
<text x="214.3" y="611.3" font-size="9" fill="#8e8e8e" text-anchor="middle" textLength="13.0" lengthAdjust="spacingAndGlyphs">0%</text>
<text x="269.0" y="611.3" font-size="9" fill="#8e8e8e" text-anchor="middle" textLength="20.0" lengthAdjust="spacingAndGlyphs">10%</text>
<text x="323.7" y="611.3" font-size="9" fill="#8e8e8e" text-anchor="middle" textLength="20.0" lengthAdjust="spacingAndGlyphs">20%</text>
<text x="378.3" y="611.3" font-size="9" fill="#8e8e8e" text-anchor="middle" textLength="20.0" lengthAdjust="spacingAndGlyphs">30%</text>
<text x="433.0" y="611.3" font-size="9" fill="#8e8e8e" text-anchor="middle" textLength="20.0" lengthAdjust="spacingAndGlyphs">40%</text>
<text x="487.7" y="611.3" font-size="9" fill="#8e8e8e" text-anchor="middle" textLength="20.0" lengthAdjust="spacingAndGlyphs">50%</text>
<text x="542.4" y="611.3" font-size="9" fill="#8e8e8e" text-anchor="middle" textLength="20.0" lengthAdjust="spacingAndGlyphs">60%</text>
<text x="597.1" y="611.3" font-size="9" fill="#8e8e8e" text-anchor="middle" textLength="20.0" lengthAdjust="spacingAndGlyphs">70%</text>
<text x="651.7" y="611.3" font-size="9" fill="#8e8e8e" text-anchor="middle" textLength="20.0" lengthAdjust="spacingAndGlyphs">80%</text>
<text x="706.4" y="611.3" font-size="9" fill="#8e8e8e" text-anchor="middle" textLength="20.0" lengthAdjust="spacingAndGlyphs">90%</text>
<text x="761.1" y="611.3" font-size="9" fill="#8e8e8e" text-anchor="middle" textLength="26.6" lengthAdjust="spacingAndGlyphs">100%</text>
<text x="305.2" y="643.8" font-size="18.4" fill="#000" text-anchor="start" textLength="35.0" lengthAdjust="spacingAndGlyphs" class="ser" font-weight="500">人生</text>
<text x="341.7" y="643.8" font-size="19.8" fill="#000" text-anchor="start" textLength="26.0" lengthAdjust="spacingAndGlyphs" class="ser" font-weight="500">100</text>
<text x="369.3" y="643.8" font-size="18.4" fill="#000" text-anchor="start" textLength="55.5" lengthAdjust="spacingAndGlyphs" class="ser" font-weight="500">年時代</text>
<text x="430.5" y="643.8" font-size="18.4" fill="#000" text-anchor="start" textLength="94.5" lengthAdjust="spacingAndGlyphs" class="ser" font-weight="500">未来ビジョン</text>
<text x="527.4" y="643.8" font-size="18.4" fill="#000" text-anchor="start" textLength="89.3" lengthAdjust="spacingAndGlyphs" class="ser" font-weight="500">研究所調査</text>
<text x="632.8" y="643.8" font-size="18.4" fill="#000" text-anchor="start" textLength="71.0" lengthAdjust="spacingAndGlyphs" class="ser" font-weight="500">全国男女</text>
<text x="704.8" y="643.8" font-size="19.8" fill="#000" text-anchor="start" textLength="45.6" lengthAdjust="spacingAndGlyphs" class="ser" font-weight="500">40-70</text>
<text x="751.3" y="643.8" font-size="18.4" fill="#000" text-anchor="start" textLength="16.5" lengthAdjust="spacingAndGlyphs" class="ser" font-weight="500">代</text>
<text x="772.9" y="643.8" font-size="19.8" fill="#000" text-anchor="start" textLength="42.0" lengthAdjust="spacingAndGlyphs" class="ser" font-weight="500">1864s</text>
<text x="826.5" y="643.8" font-size="19.8" fill="#000" text-anchor="start" textLength="36.3" lengthAdjust="spacingAndGlyphs" class="ser" font-weight="500">2020</text>
<text x="863.4" y="643.8" font-size="18.4" fill="#000" text-anchor="start" textLength="16.8" lengthAdjust="spacingAndGlyphs" class="ser" font-weight="500">年</text>
<text x="880.8" y="643.8" font-size="19.8" fill="#000" text-anchor="start" textLength="9.0" lengthAdjust="spacingAndGlyphs" class="ser" font-weight="500">6</text>
<text x="890.4" y="643.8" font-size="18.4" fill="#000" text-anchor="start" textLength="15.8" lengthAdjust="spacingAndGlyphs" class="ser" font-weight="500">月</text>
</svg></body></html>
